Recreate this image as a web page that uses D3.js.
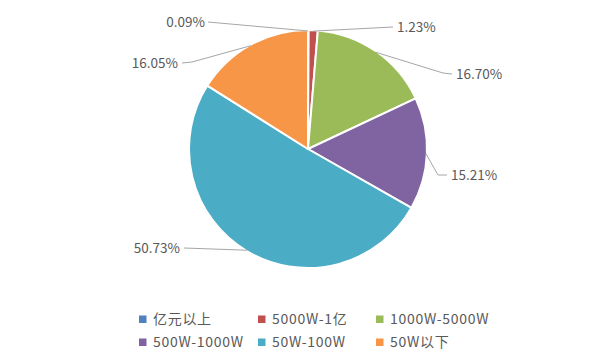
<!DOCTYPE html>
<html><head><meta charset="utf-8">
<script src="https://cdn.jsdelivr.net/npm/d3@7"></script>
<style>body{margin:0;background:#fff}svg{display:block}</style>
</head><body>
<svg id="c" width="596" height="363"></svg>
<script>
const categories = ["亿元以上","5000W-1亿","1000W-5000W","500W-1000W","50W-100W","50W以下"];
const values = [0.09, 1.23, 16.70, 15.21, 50.73, 16.05];
const labels = ["0.09%","1.23%","16.70%","15.21%","50.73%","16.05%"];
const colors = ["#4F81BD","#C0504D","#9BBB59","#8064A2","#4BACC6","#F79646"];

// label layout: text position, anchor, elbow
const labelLayout = [
  {x:205,y:22,anchor:"end",   pts:[[208,22]]},
  {x:397,y:27,anchor:"start", pts:[[393,27]]},
  {x:456,y:74,anchor:"start", pts:[[452,74],[443,73]]},
  {x:451,y:175,anchor:"start",pts:[[447,175],[438,175]]},
  {x:180,y:248,anchor:"end",  pts:[[184,248]]},
  {x:178,y:63,anchor:"end",   pts:[[182,63],[192,62]]}
];

const svg = d3.select("#c");
const cx = 308, cy = 149, R = 119;
const font = "'Noto Sans CJK SC','Noto Sans',sans-serif";

const pie = d3.pie().value(d=>d).sort(null)(values);
const arc = d3.arc().innerRadius(0).outerRadius(R);
const g = svg.append("g").attr("transform",`translate(${cx},${cy})`);
g.selectAll("path").data(pie).join("path")
  .attr("d",arc).attr("fill",(d,i)=>colors[i])
  .attr("stroke","#fff").attr("stroke-width",2).attr("stroke-linejoin","round");

// leader lines
pie.forEach((d,i)=>{
  const a = (d.startAngle+d.endAngle)/2;
  const px = cx + (R-1)*Math.sin(a), py = cy - (R-1)*Math.cos(a);
  const L = labelLayout[i];
  const pts = L.pts.concat([[px,py]]);
  svg.append("path").attr("d", d3.line()(pts))
    .attr("fill","none").attr("stroke","#a6a6a6").attr("stroke-width",1);
  svg.append("text").attr("x",L.x).attr("y",L.y).attr("dy","0.35em")
    .attr("text-anchor",L.anchor).attr("font-family",font).attr("font-size",13.5)
    .attr("fill","#595959").text(labels[i]);
});

// legend
const legX = [139,258,376], legY = [319,342];
categories.forEach((c,i)=>{
  const x = legX[i%3], y = legY[Math.floor(i/3)];
  svg.append("rect").attr("x",x).attr("y",y-3.5).attr("width",7.5).attr("height",7.5).attr("fill",colors[i]);
  svg.append("text").attr("x",x+14).attr("y",y).attr("dy","0.36em")
    .attr("font-family",font).attr("font-size",14).attr("letter-spacing",0.7)
    .attr("fill","#595959").text(c);
});
</script>
</body></html>
